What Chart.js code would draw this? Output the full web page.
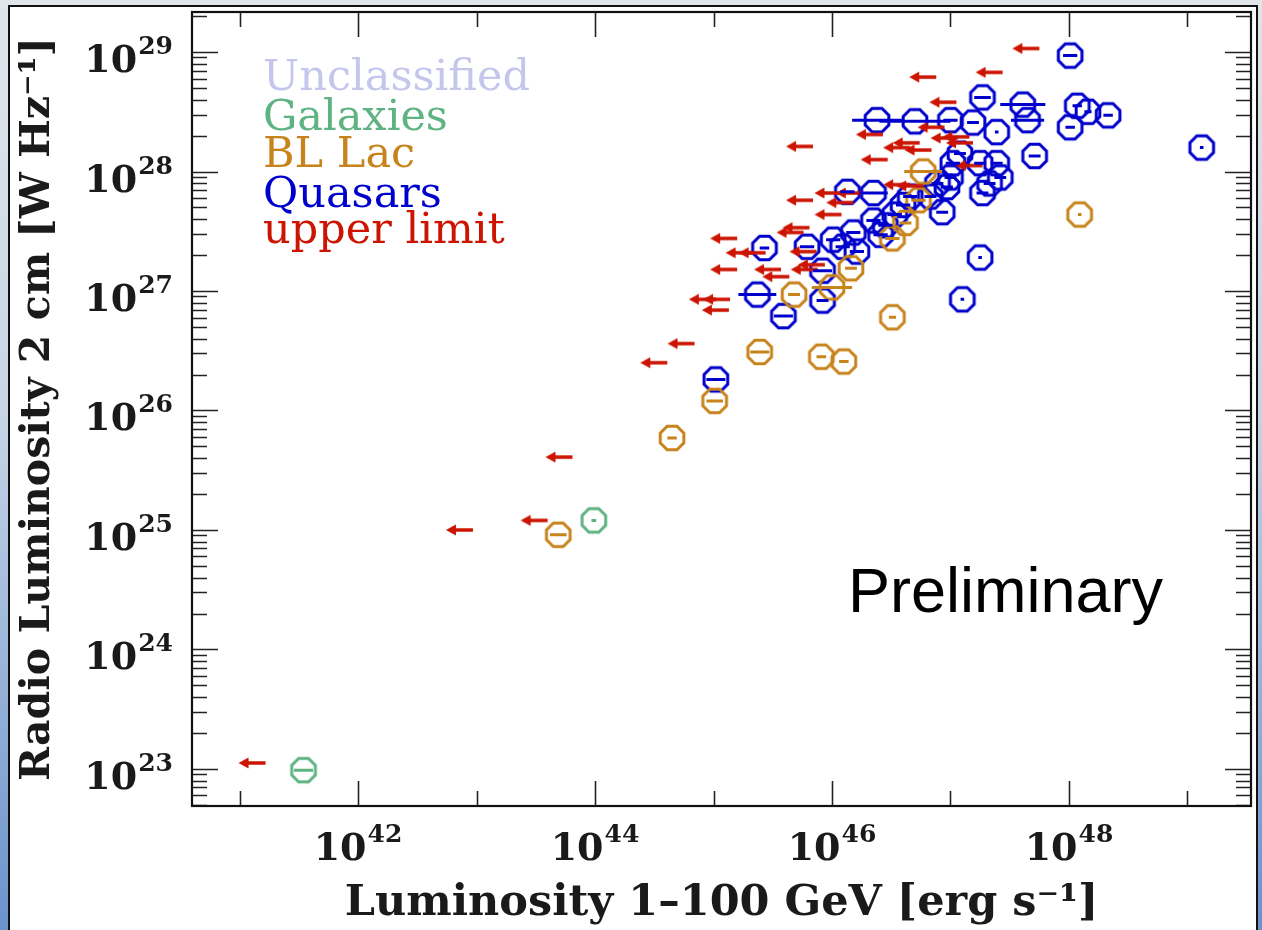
<!DOCTYPE html>
<html>
<head>
<meta charset="utf-8">
<script src="https://cdn.jsdelivr.net/npm/chart.js@4.4.1/dist/chart.umd.min.js"></script>
<style>
  html, body { margin: 0; padding: 0; background: #fff; }
  #wrap { width: 1262px; height: 930px; }
</style>
</head>
<body>
<div id="wrap"><canvas id="plot" width="1262" height="930"></canvas></div>
<script>
// valores, em log10
// quasares: log L(1-100 GeV), log L(2 cm), meia largura da barra em dex
const quasarLogLg = [45.02, 45.37, 45.59, 45.43, 45.79, 45.92, 45.92, 46.01, 46.09, 46.18, 46.21, 46.35, 46.13, 46.35, 46.41, 46.45, 46.53, 46.60, 46.66, 46.83, 46.89, 46.93, 46.97, 47.00, 47.02, 47.08, 47.25, 47.39, 47.42, 47.33, 47.27, 47.25, 47.10, 46.38, 46.70, 47.00, 47.19, 47.39, 47.27, 47.61, 47.65, 48.01, 48.07, 48.16, 48.33, 48.01, 47.71, 49.12];
const quasarLogLr = [26.26, 26.97, 26.79, 27.36, 27.37, 27.17, 26.92, 27.43, 27.37, 27.49, 27.33, 27.59, 27.83, 27.82, 27.47, 27.55, 27.64, 27.72, 27.79, 27.79, 27.90, 27.66, 27.87, 27.95, 28.07, 28.15, 28.07, 28.07, 27.95, 27.90, 27.82, 27.28, 26.93, 28.43, 28.42, 28.43, 28.41, 28.33, 28.62, 28.56, 28.43, 28.97, 28.55, 28.50, 28.47, 28.37, 28.13, 28.20];
const quasarErr = [0.08, 0.16, 0.08, 0.04, 0.06, 0.08, 0.05, 0.06, 0.06, 0.06, 0.06, 0.06, 0.06, 0.12, 0.06, 0.06, 0.06, 0.06, 0.06, 0.05, 0.05, 0.05, 0.05, 0.05, 0.06, 0.05, 0.05, 0.05, 0.05, 0.05, 0.05, 0.015, 0.015, 0.21, 0.30, 0.06, 0.05, 0.015, 0.07, 0.19, 0.14, 0.06, 0.04, 0.03, 0.04, 0.04, 0.05, 0.015];

const blLacLogLg = [43.69, 44.65, 45.01, 45.39, 45.91, 46.10, 46.51, 45.68, 46.00, 46.16, 46.51, 46.62, 46.73, 46.77, 48.09];
const blLacLogLr = [24.96, 25.77, 26.08, 26.49, 26.45, 26.41, 26.78, 26.97, 27.03, 27.19, 27.44, 27.57, 27.76, 28.00, 27.64];
const blLacErr = [0.07, 0.04, 0.07, 0.08, 0.04, 0.04, 0.03, 0.05, 0.17, 0.05, 0.06, 0.05, 0.06, 0.16, 0.015];

const galaxyLogLg = [41.54, 43.99];
const galaxyLogLr = [22.99, 25.08];
const galaxyErr = [0.08, 0.02];

// limites superiores (setas)
const limitLogLg = [41.11, 42.86, 43.49, 43.70, 44.50, 44.73, 44.91, 45.03, 45.02, 45.09, 45.09, 45.22, 45.33, 45.46, 45.53, 45.65, 45.70, 45.76, 45.77, 45.83, 45.97, 45.73, 46.07, 45.73, 45.97, 46.15, 46.32, 46.36, 47.64, 46.77, 47.33, 46.94, 46.84, 46.95, 47.05, 47.08, 46.63, 46.55, 46.73, 47.16, 46.55, 46.66];
const limitLogLr = [23.05, 25.00, 25.08, 25.61, 26.40, 26.56, 26.93, 26.93, 26.84, 27.44, 27.18, 27.32, 27.32, 27.18, 27.12, 27.49, 27.53, 27.33, 27.18, 27.22, 27.64, 27.76, 27.74, 28.21, 27.82, 27.82, 28.31, 28.10, 29.03, 28.79, 28.83, 28.58, 28.37, 28.28, 28.29, 28.24, 28.24, 28.20, 28.18, 28.05, 27.89, 27.88];

const xDecades = [41, 42, 43, 44, 45, 46, 47, 48, 49];
const xLabelDecades = [42, 44, 46, 48];
const yDecades = [23, 24, 25, 26, 27, 28, 29];
const xRange = [40.599, 49.536];
const yRange = [22.69, 29.335];

const legendLabels = ["Unclassified", "Galaxies", "BL Lac", "Quasars", "upper limit"];
const legendColors = ["#c4c6ec", "#5fb383", "#c8841c", "#0000cc", "#cc1400"];

function toPoints(lx, ly) {
  return lx.map((v, i) => ({ x: Math.pow(10, v), y: Math.pow(10, ly[i]) }));
}

function octagon(color) {
  const r = 12.8, lw = 3;
  const c = document.createElement("canvas");
  const s = 32;
  c.width = c.height = s;
  const g = c.getContext("2d");
  g.strokeStyle = color;
  g.lineWidth = lw;
  g.beginPath();
  for (let i = 0; i < 8; i++) {
    const a = Math.PI / 8 + (i * Math.PI) / 4;
    g.lineTo(s / 2 + r * Math.cos(a), s / 2 + r * Math.sin(a));
  }
  g.closePath();
  g.stroke();
  return c;
}

function arrow(color) {
  const c = document.createElement("canvas");
  c.width = 30;
  c.height = 14;
  const g = c.getContext("2d");
  g.strokeStyle = color;
  g.fillStyle = color;
  g.lineWidth = 3.5;
  g.beginPath();
  g.moveTo(8, 7);
  g.lineTo(28, 7);
  g.stroke();
  g.beginPath();
  g.moveTo(1, 7);
  g.lineTo(11, 1.5);
  g.lineTo(11, 12.5);
  g.closePath();
  g.fill();
  return c;
}

// barras de erro em x, desenhadas pela escala
const errorBars = {
  id: "errorBars",
  afterDatasetsDraw(chart) {
    const { ctx, scales } = chart;
    ctx.save();
    ctx.lineWidth = 3;
    chart.data.datasets.forEach((ds) => {
      if (!ds.err) return;
      ctx.strokeStyle = ds.barColor;
      ctx.beginPath();
      ds.data.forEach((p, i) => {
        const e = ds.err[i];
        const py = scales.y.getPixelForValue(p.y);
        ctx.moveTo(scales.x.getPixelForValue(p.x / Math.pow(10, e)), py);
        ctx.lineTo(scales.x.getPixelForValue(p.x * Math.pow(10, e)), py);
      });
      ctx.stroke();
    });
    ctx.restore();
  },
};

const pageBackground = {
  id: "pageBackground",
  beforeDraw(chart) {
    const { ctx, width, height } = chart;
    ctx.save();
    const grad = ctx.createLinearGradient(0, 0, 0, height);
    grad.addColorStop(0, "#e0e5ea");
    grad.addColorStop(0.45, "#c6d4e5");
    grad.addColorStop(1, "#6a92cc");
    ctx.fillStyle = grad;
    ctx.fillRect(0, 0, width, height);
    ctx.fillStyle = "#ffffff";
    ctx.fillRect(9, 6, 1248, height);
    ctx.strokeStyle = "#111";
    ctx.lineWidth = 2;
    ctx.strokeRect(9, 6, 1248, height + 10);
    ctx.restore();
  },
};

// caixa do grafico com ticks para dentro nos 4 lados
const frameTicks = {
  id: "frameTicks",
  afterDraw(chart) {
    const { ctx, chartArea: a, scales } = chart;
    const x = scales.x, y = scales.y;
    ctx.save();
    ctx.strokeStyle = "#222";
    ctx.lineWidth = 1.6;
    ctx.beginPath();
    xDecades.forEach((e) => {
      const px = Math.round(x.getPixelForValue(Math.pow(10, e))) + 0.5;
      const len = e % 2 === 0 ? 25 : 15;
      ctx.moveTo(px, a.bottom);
      ctx.lineTo(px, a.bottom - len);
      ctx.moveTo(px, a.top);
      ctx.lineTo(px, a.top + len);
    });
    for (let e = 22; e <= 29; e++) {
      for (let m = 1; m <= 9; m++) {
        const v = m * Math.pow(10, e);
        if (v < y.min || v > y.max) continue;
        const py = Math.round(y.getPixelForValue(v)) + 0.5;
        const len = m === 1 ? 26 : 15;
        ctx.moveTo(a.left, py);
        ctx.lineTo(a.left + len, py);
        ctx.moveTo(a.right, py);
        ctx.lineTo(a.right - len, py);
      }
    }
    ctx.stroke();
    ctx.lineWidth = 2.2;
    ctx.strokeStyle = "#111";
    ctx.strokeRect(a.left, a.top, a.right - a.left, a.bottom - a.top);

    // rotulos 10^n com expoente elevado
    const base = "bold 38px 'DejaVu Serif'";
    const expo = "bold 25px 'DejaVu Serif'";
    ctx.fillStyle = "#1a1a1a";
    ctx.textBaseline = "alphabetic";
    ctx.textAlign = "left";
    const label = (e, lx, baseline) => {
      ctx.font = base;
      const w10 = ctx.measureText("10").width;
      ctx.fillText("10", lx, baseline);
      ctx.font = expo;
      ctx.fillText(String(e), lx + w10 + 1, baseline - 18);
    };
    const width = (e) => {
      ctx.font = base;
      const a1 = ctx.measureText("10").width;
      ctx.font = expo;
      return a1 + 1 + ctx.measureText(String(e)).width;
    };
    yDecades.forEach((e) => {
      const py = y.getPixelForValue(Math.pow(10, e));
      label(e, a.left - 19 - width(e), py + 20);
    });
    xLabelDecades.forEach((e) => {
      const px = x.getPixelForValue(Math.pow(10, e));
      label(e, px - width(e) / 2, a.bottom + 54);
    });
    ctx.restore();
  },
};

const annotations = {
  id: "annotations",
  afterDraw(chart) {
    const { ctx } = chart;
    ctx.save();
    ctx.textAlign = "left";
    ctx.textBaseline = "alphabetic";
    ctx.font = "43px 'DejaVu Serif'";
    const baselines = [90, 130, 167, 207, 243];
    legendLabels.forEach((t, i) => {
      ctx.fillStyle = legendColors[i];
      ctx.fillText(t, 263, baselines[i]);
    });
    ctx.fillStyle = "#000";
    ctx.font = "63px 'Liberation Sans'";
    ctx.fillText("Preliminary", 848, 612);
    ctx.restore();
  },
};

new Chart(document.getElementById("plot"), {
  type: "scatter",
  data: {
    datasets: [
      {
        label: "upper limit",
        data: toPoints(limitLogLg, limitLogLr),
        pointStyle: arrow("#cc1400"),
        pointRadius: 10,
      },
      {
        label: "Galaxies",
        data: toPoints(galaxyLogLg, galaxyLogLr),
        err: galaxyErr,
        barColor: "#5fb383",
        pointStyle: octagon("#5fb383"),
        pointRadius: 13,
      },
      {
        label: "BL Lac",
        data: toPoints(blLacLogLg, blLacLogLr),
        err: blLacErr,
        barColor: "#c8841c",
        pointStyle: octagon("#c8841c"),
        pointRadius: 13,
      },
      {
        label: "Quasars",
        data: toPoints(quasarLogLg, quasarLogLr),
        err: quasarErr,
        barColor: "#0000cc",
        pointStyle: octagon("#0000cc"),
        pointRadius: 13,
      },
    ],
  },
  options: {
    responsive: false,
    animation: false,
    events: [],
    layout: { autoPadding: false, padding: { left: 0, top: 12, right: 11, bottom: 0 } },
    plugins: { legend: { display: false }, tooltip: { enabled: false } },
    scales: {
      x: {
        type: "logarithmic",
        min: Math.pow(10, xRange[0]),
        max: Math.pow(10, xRange[1]),
        grid: { display: false },
        border: { display: false },
        afterBuildTicks: (s) => {
          s.ticks = xDecades.map((e) => ({ value: Math.pow(10, e) }));
        },
        afterFit: (s) => {
          s.height = 124;
          s.paddingLeft = 0;
          s.paddingRight = 0;
        },
        ticks: { display: false },
        title: {
          display: true,
          text: "Luminosity 1–100 GeV [erg s⁻¹]",
          color: "#1a1a1a",
          font: { family: "'DejaVu Serif'", size: 43, weight: "bold" },
          padding: { top: 0, bottom: 0 },
        },
      },
      y: {
        type: "logarithmic",
        min: Math.pow(10, yRange[0]),
        max: Math.pow(10, yRange[1]),
        grid: { display: false },
        border: { display: false },
        afterBuildTicks: (s) => {
          s.ticks = yDecades.map((e) => ({ value: Math.pow(10, e) }));
        },
        afterFit: (s) => {
          s.width = 192;
          s.paddingTop = 0;
          s.paddingBottom = 0;
        },
        ticks: { display: false },
        title: {
          display: true,
          text: "Radio Luminosity 2 cm [W Hz⁻¹]",
          color: "#1a1a1a",
          font: { family: "'DejaVu Serif'", size: 41, weight: "bold" },
          padding: { top: 14, bottom: 0 },
        },
      },
    },
  },
  plugins: [pageBackground, errorBars, frameTicks, annotations],
});
</script>
</body>
</html>
